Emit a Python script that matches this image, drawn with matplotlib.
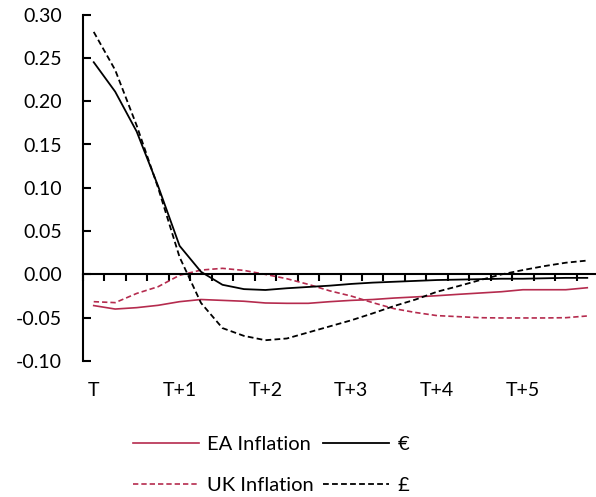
import matplotlib
matplotlib.use("Agg")
import matplotlib.pyplot as plt
import numpy as np

plt.rcParams['font.family'] = ['Lato', 'DejaVu Sans']
plt.rcParams['axes.unicode_minus'] = False

# ---- data (quarterly, T .. T+5.75) ----
x_labels = ['T', 'T+1', 'T+2', 'T+3', 'T+4', 'T+5']
euro = [0.245, 0.211, 0.165, 0.102, 0.033, 0.003, -0.012, -0.017, -0.018, -0.016,
        -0.0145, -0.013, -0.011, -0.0095, -0.0085, -0.0075, -0.0065, -0.006,
        -0.0055, -0.005, -0.005, -0.0045, -0.004, -0.004]
pound = [0.280, 0.236, 0.172, 0.100, 0.020, -0.033, -0.062, -0.071, -0.076, -0.074,
         -0.067, -0.060, -0.053, -0.045, -0.0365, -0.029, -0.020, -0.0135,
         -0.0066, 0.000, 0.005, 0.0096, 0.0135, 0.016]
ea_infl = [-0.036, -0.040, -0.0384, -0.0357, -0.0315, -0.029, -0.030, -0.031, -0.033,
           -0.0334, -0.0334, -0.0315, -0.030, -0.029, -0.0273, -0.026, -0.0246,
           -0.023, -0.0215, -0.020, -0.0177, -0.0177, -0.0177, -0.0154]
uk_infl = [-0.0315, -0.0326, -0.022, -0.0142, -0.001, 0.005, 0.007, 0.0046, 0.000,
           -0.005, -0.0115, -0.019, -0.025, -0.0326, -0.0396, -0.044, -0.0476,
           -0.0488, -0.050, -0.0503, -0.0503, -0.0503, -0.050, -0.048]
y_ticks = [-0.10, -0.05, 0.00, 0.05, 0.10, 0.15, 0.20, 0.25, 0.30]

n = len(euro)
xs = np.arange(n)

W, H = 596, 497
fig = plt.figure(figsize=(W / 100, H / 100), dpi=100)
ax = fig.add_axes([83 / W, (H - 361) / H, (598 - 83) / W, (361 - 14.6) / H])

red = '#B52B4E'
dash = (0, (3.2, 1.8))
l_ea, = ax.plot(xs, ea_infl, color=red, lw=1.2)
l_uk, = ax.plot(xs, uk_infl, color=red, lw=1.2, linestyle=dash)
l_eu, = ax.plot(xs, euro, color='black', lw=1.3)
l_gb, = ax.plot(xs, pound, color='black', lw=1.3, linestyle=dash)

ax.set_xlim(-0.5, n - 0.5)
ax.set_ylim(-0.10, 0.30)

for s in ['top', 'right']:
    ax.spines[s].set_visible(False)
ax.spines['left'].set_linewidth(1.5)
ax.spines['bottom'].set_position(('data', 0))
ax.spines['bottom'].set_linewidth(1.5)

ax.set_yticks(y_ticks)
ax.set_yticklabels([f'{v:.2f}' for v in y_ticks])
ax.tick_params(axis='y', direction='in', length=6, width=1.5, pad=15, labelsize=14)

ax.set_xticks(np.arange(-0.5, n, 1))
ax.set_xticklabels([])
ax.tick_params(axis='x', direction='out', length=5, width=1.5)

sec = ax.secondary_xaxis('bottom')
sec.set_xticks(np.arange(0, n, 4), x_labels)
sec.tick_params(length=0, pad=15, labelsize=14)
sec.spines['bottom'].set_visible(False)

fig.legend([l_ea, l_uk, l_eu, l_gb], ['EA Inflation', 'UK Inflation', '€', '£'],
           ncol=2, loc='center', bbox_to_anchor=(271 / W, 1 - 465 / H),
           frameon=False, fontsize=14.5, handlelength=3.3, handletextpad=0.4,
           columnspacing=0.45, labelspacing=1.2, borderpad=0)

fig.savefig('out.png', dpi=100)
